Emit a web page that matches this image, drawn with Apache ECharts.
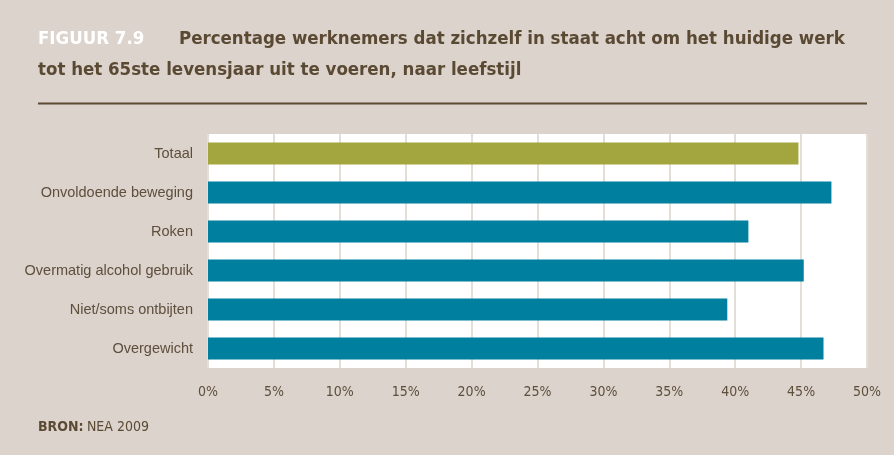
<!DOCTYPE html>
<html>
<head>
<meta charset="utf-8">
<style>
  html, body { margin: 0; padding: 0; background: #dbd3cc; }
  #chart { width: 894px; height: 455px; }
</style>
<script src="https://cdn.jsdelivr.net/npm/echarts@6/dist/echarts.min.js"></script>
</head>
<body>
<div id="chart"></div>
<script>
// Leefstijlcategorieën (van boven naar beneden)
const categories = [
  'Totaal',
  'Onvoldoende beweging',
  'Roken',
  'Overmatig alcohol gebruik',
  'Niet/soms ontbijten',
  'Overgewicht'
];
// Percentage werknemers per categorie
const values = [44.8, 47.3, 41.0, 45.2, 39.4, 46.7];
// Asverdeling in procenten
const axisMin = 0;
const axisMax = 50;
const axisStep = 5;

const brown = '#5b4a33';
const labelColor = '#5e4e3c';
const condensed = "'DejaVu Sans Condensed', 'Liberation Sans', sans-serif";
const plain = "'Liberation Sans', 'DejaVu Sans', sans-serif";

const chart = echarts.init(document.getElementById('chart'), null, { renderer: 'canvas' });

chart.setOption({
  backgroundColor: '#dbd3cc',
  animation: false,
  grid: {
    left: 208, right: 27, top: 134, bottom: 87,
    show: true, backgroundColor: '#ffffff', borderWidth: 0
  },
  xAxis: {
    type: 'value',
    min: axisMin, max: axisMax, interval: axisStep,
    axisLine: { show: false },
    axisTick: { show: false },
    splitLine: { show: true, lineStyle: { color: '#e3ded8', width: 2 } },
    axisLabel: {
      formatter: '{value}%', color: labelColor, fontSize: 14,
      fontFamily: condensed, margin: 17
    }
  },
  yAxis: {
    type: 'category',
    data: categories,
    inverse: true,
    axisLine: { show: false },
    axisTick: { show: false },
    splitLine: { show: false },
    axisLabel: { color: labelColor, fontSize: 14.5, fontFamily: plain, margin: 15 }
  },
  series: [{
    type: 'bar',
    data: values.map((v, i) => ({
      value: v,
      itemStyle: { color: i === 0 ? '#a3a63e' : '#007f9f' }
    })),
    barCategoryGap: '44%',
    silent: true
  }],
  graphic: [
    {
      type: 'text', left: 38, top: 30,
      style: {
        text: 'FIGUUR 7.9', fill: '#ffffff', fontSize: 18.5, fontWeight: 'bold',
        fontFamily: condensed
      }
    },
    {
      type: 'text', left: 179, top: 30,
      style: {
        text: 'Percentage werknemers dat zichzelf in staat acht om het huidige werk',
        fill: brown, fontSize: 18.5, fontWeight: 'bold', fontFamily: condensed
      }
    },
    {
      type: 'text', left: 38, top: 61,
      style: {
        text: 'tot het 65ste levensjaar uit te voeren, naar leefstijl',
        fill: brown, fontSize: 18.5, fontWeight: 'bold', fontFamily: condensed
      }
    },
    {
      type: 'line',
      shape: { x1: 38, y1: 103.5, x2: 867, y2: 103.5 },
      style: { stroke: '#5c4a35', lineWidth: 2 }
    },
    {
      type: 'text', left: 38, top: 420,
      style: {
        rich: {
          b: { fontWeight: 'bold', fill: brown, fontSize: 14, fontFamily: condensed },
          n: { fill: brown, fontSize: 14, fontFamily: condensed }
        },
        text: '{b|BRON:} {n|NEA 2009}'
      }
    }
  ]
});
</script>
</body>
</html>
